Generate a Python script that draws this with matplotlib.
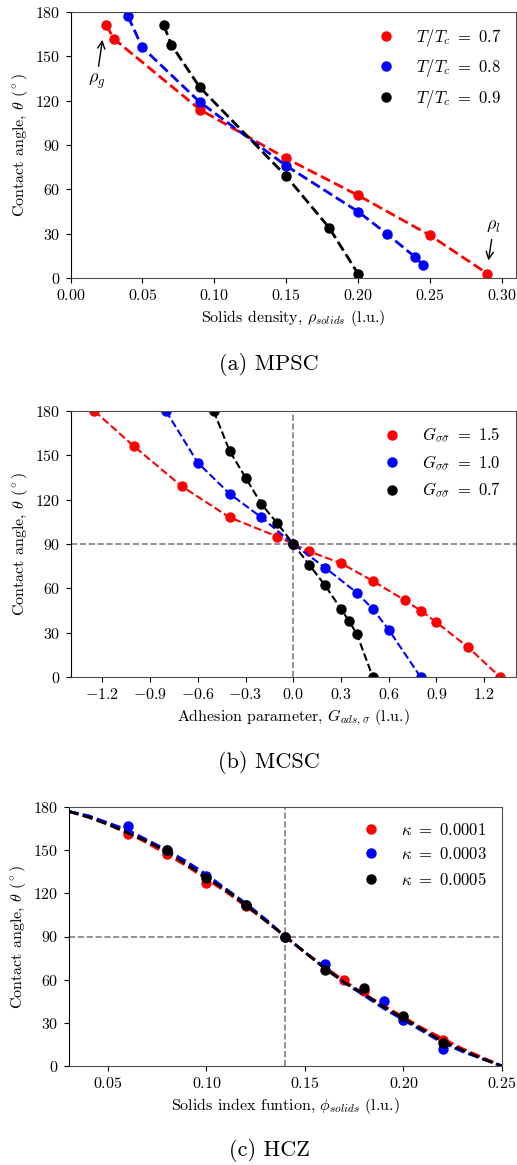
import matplotlib
matplotlib.use("Agg")
import matplotlib.pyplot as plt

plt.rcParams['font.family'] = 'serif'
plt.rcParams['font.serif'] = ['cmr10']
plt.rcParams['mathtext.fontset'] = 'cm'
plt.rcParams['axes.formatter.use_mathtext'] = True
plt.rcParams['font.size'] = 11.5

# (a) MPSC: contact angle vs solids density
mpsc_labels = [r'$T/T_c\ =\ 0.7$', r'$T/T_c\ =\ 0.8$', r'$T/T_c\ =\ 0.9$']
mpsc_x = [
    [0.025, 0.03, 0.09, 0.15, 0.20, 0.25, 0.29],
    [0.04, 0.05, 0.09, 0.15, 0.20, 0.22, 0.24, 0.245],
    [0.065, 0.07, 0.09, 0.15, 0.18, 0.20],
]
mpsc_y = [
    [171, 162, 114, 81, 56, 29, 3],
    [177, 156, 119, 76, 45, 30, 14, 9],
    [171, 158, 129, 69, 34, 3],
]

# (b) MCSC: contact angle vs adhesion parameter
mcsc_labels = [r'$G_{\sigma\bar{\sigma}}\ =\ 1.5$', r'$G_{\sigma\bar{\sigma}}\ =\ 1.0$',
               r'$G_{\sigma\bar{\sigma}}\ =\ 0.7$']
mcsc_x = [
    [-1.25, -1.0, -0.7, -0.4, -0.1, 0.0, 0.1, 0.3, 0.5, 0.7, 0.8, 0.9, 1.1, 1.3],
    [-0.8, -0.6, -0.4, -0.2, 0.0, 0.2, 0.4, 0.5, 0.6, 0.8],
    [-0.5, -0.4, -0.3, -0.2, -0.1, 0.0, 0.1, 0.2, 0.3, 0.35, 0.4, 0.5],
]
mcsc_y = [
    [180, 156, 129, 108, 95, 90, 85, 77, 65, 52, 45, 37, 20, 0],
    [180, 145, 124, 108, 90, 74, 57, 46, 32, 0],
    [180, 153, 135, 117, 104, 90, 76, 62, 46, 38, 29, 0],
]

# (c) HCZ: contact angle vs solids index function
hcz_labels = [r'$\kappa\ =\ 0.0001$', r'$\kappa\ =\ 0.0003$', r'$\kappa\ =\ 0.0005$']
hcz_x = [
    [0.06, 0.08, 0.10, 0.12, 0.14, 0.17, 0.18, 0.20, 0.22],
    [0.06, 0.08, 0.10, 0.12, 0.14, 0.16, 0.19, 0.20, 0.22],
    [0.08, 0.10, 0.12, 0.14, 0.16, 0.18, 0.20, 0.22],
]
hcz_y = [
    [161, 147, 127, 111, 90, 60, 52, 34, 18],
    [167, 150, 132, 112, 90, 71, 45, 32, 12],
    [150, 131, 112, 90, 67, 54, 35, 16],
]
# fitted curves
hcz_fit_x = [0.03, 0.04, 0.05, 0.06, 0.07, 0.08, 0.09, 0.10, 0.11, 0.12, 0.13, 0.14,
             0.15, 0.16, 0.17, 0.18, 0.19, 0.20, 0.21, 0.22, 0.23, 0.24, 0.25]
hcz_fit_y = [
    [177, 173, 168, 162, 155, 147, 139, 130, 121, 111, 101, 90, 79, 69, 59, 50, 42, 34, 26, 19, 12, 6, 0],
    [177, 174, 169, 164, 157, 150, 142, 133, 123, 113, 102, 90, 79, 68, 58, 49, 40, 32, 24, 16, 10, 5, 0],
    [177, 173, 168, 162, 156, 149, 140, 131, 122, 112, 101, 90, 79, 68, 58, 50, 41, 33, 25, 17, 11, 5, 0],
]

colors = ['red', 'blue', 'black']
yticks = [0, 30, 60, 90, 120, 150, 180]

fig = plt.figure(figsize=(5.17, 11.65), dpi=100)
W, H = 517, 1165
def box(l, t, r, b):
    return [l / W, 1 - b / H, (r - l) / W, (b - t) / H]

ax1 = fig.add_axes(box(70.5, 12, 516, 278))
ax2 = fig.add_axes(box(70.5, 411, 516, 677))
ax3 = fig.add_axes(box(68.5, 807, 502, 1066))

def style(ax):
    for s in ['top', 'right', 'bottom']:
        ax.spines[s].set_color('0.3')
    ax.spines['left'].set_color('black')
    ax.set_yticks(yticks)
    ax.set_ylim(0, 180)
    ax.set_ylabel(r'Contact angle, $\theta$ ($^\circ$)', fontsize=11.5)

# panel a
for xs, ys, c, lab in zip(mpsc_x, mpsc_y, colors, mpsc_labels):
    ax1.plot(xs, ys, 'o', color=c, ms=6.5, label=lab)
    ax1.plot(xs, ys, '--', color=c, lw=2)
ax1.set_xlim(0, 0.31)
ax1.set_xticks([0.0, 0.05, 0.10, 0.15, 0.20, 0.25, 0.30])
ax1.set_xlabel(r'Solids density, $\rho_{solids}$ (l.u.)', fontsize=11.5)
style(ax1)
ax1.annotate(r'$\rho_g$', xy=(0.0225, 163), xytext=(0.018, 133), fontsize=13,
             ha='center', va='center', arrowprops=dict(arrowstyle='->', color='black', lw=1))
ax1.annotate(r'$\rho_l$', xy=(0.2905, 10), xytext=(0.2945, 35), fontsize=13,
             ha='center', va='center', arrowprops=dict(arrowstyle='->', color='black', lw=1))
ax1.legend(loc='upper right', frameon=False, fontsize=12)

# panel b
ax2.axvline(0, color='gray', ls='--', lw=1.2, zorder=0)
ax2.axhline(90, color='gray', ls='--', lw=1.2, zorder=0)
for xs, ys, c, lab in zip(mcsc_x, mcsc_y, colors, mcsc_labels):
    ax2.plot(xs, ys, 'o', color=c, ms=6.5, label=lab)
    ax2.plot(xs, ys, '--', color=c, lw=1.5)
ax2.set_xlim(-1.4, 1.4)
ax2.set_xticks([-1.2, -0.9, -0.6, -0.3, 0.0, 0.3, 0.6, 0.9, 1.2])
ax2.set_xlabel(r'Adhesion parameter, $G_{ads,\sigma}$ (l.u.)', fontsize=11.5)
style(ax2)
ax2.legend(loc='upper right', frameon=False, fontsize=12)

# panel c
ax3.axvline(0.14, color='gray', ls='--', lw=1.2, zorder=0)
ax3.axhline(90, color='gray', ls='--', lw=1.2, zorder=0)
for xs, ys, fy, c, lab in zip(hcz_x, hcz_y, hcz_fit_y, colors, hcz_labels):
    ax3.plot(xs, ys, 'o', color=c, ms=6.5, label=lab)
    ax3.plot(hcz_fit_x, fy, '--', color=c, lw=2)
ax3.set_xlim(0.03, 0.25)
ax3.set_xticks([0.05, 0.10, 0.15, 0.20, 0.25])
ax3.set_xlabel(r'Solids index funtion, $\phi_{solids}$ (l.u.)', fontsize=11.5)
style(ax3)
ax3.legend(loc='upper right', frameon=False, fontsize=12)

fig.text(269 / W, 1 - 365 / H, '(a) MPSC', ha='center', va='center', fontsize=16)
fig.text(269 / W, 1 - 763 / H, '(b) MCSC', ha='center', va='center', fontsize=16)
fig.text(269 / W, 1 - 1151 / H, '(c) HCZ', ha='center', va='center', fontsize=16)

fig.savefig('out.png', dpi=100)
